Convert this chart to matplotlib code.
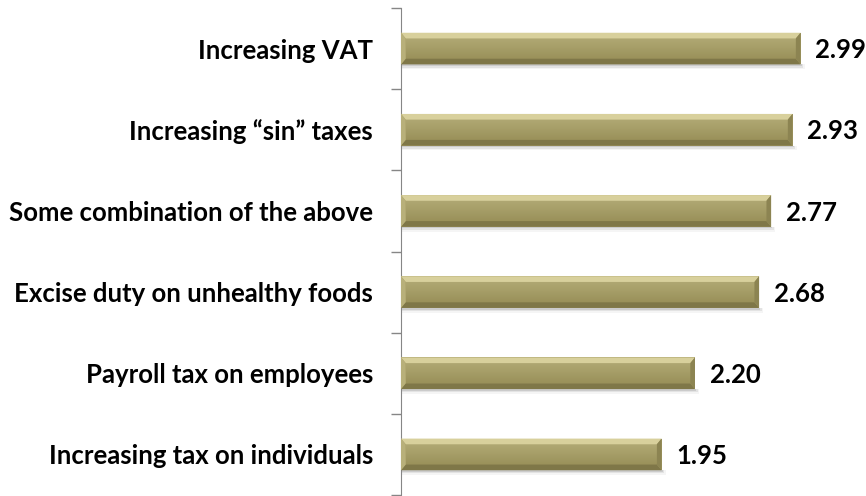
import matplotlib
matplotlib.use("Agg")
import matplotlib.pyplot as plt
import numpy as np
from matplotlib.patches import Polygon, Rectangle

categories = [
    "Increasing tax on individuals",
    "Payroll tax on employees",
    "Excise duty on unhealthy foods",
    "Some combination of the above",
    "Increasing \u201csin\u201d taxes",
    "Increasing VAT",
]
values = [1.95, 2.20, 2.68, 2.77, 2.93, 2.99]
value_labels = ["1.95", "2.20", "2.68", "2.77", "2.93", "2.99"]

plt.rcParams["font.family"] = ["Lato", "DejaVu Sans"]

fig = plt.figure(figsize=(8.66, 4.96), dpi=100)
ax = fig.add_axes([401 / 866, 1 / 496, 465 / 866, 487 / 496])

y = np.arange(len(categories))
height = 0.39
face = "#A39A62"
bars = ax.barh(y, values, height=height, color=face, edgecolor="none", zorder=3)

ax.set_xlim(0, 3.48)
ax.set_ylim(-0.5, len(categories) - 0.5)

# bevel and shadow on each bar
bx = 0.035
by = 0.07
for rect in bars:
    x0 = rect.get_x()
    x1 = x0 + rect.get_width()
    y0 = rect.get_y()
    y1 = y0 + rect.get_height()
    # soft drop shadow
    for k, a in enumerate([0.10, 0.07, 0.04]):
        d = 0.02 * (k + 1)
        ax.add_patch(Rectangle((x0, y0 - d), x1 - x0 + 0.01 * (k + 1), d,
                               color="black", alpha=a, lw=0, zorder=2))
    # inner face gradient
    grad = np.linspace(0, 1, 50).reshape(-1, 1)
    cmap = matplotlib.colors.LinearSegmentedColormap.from_list(
        "face", ["#9A915A", "#A59D67", "#B0A873"])
    ax.imshow(grad, extent=(x0 + bx, x1 - bx, y0 + by, y1 - by), origin="lower",
              cmap=cmap, aspect="auto", zorder=4)
    # top edge
    ax.add_patch(Polygon([(x0, y1), (x1, y1), (x1 - bx, y1 - by), (x0 + bx, y1 - by)],
                         closed=True, color="#D8D09C", lw=0, zorder=5))
    # bottom edge
    ax.add_patch(Polygon([(x0, y0), (x1, y0), (x1 - bx, y0 + by), (x0 + bx, y0 + by)],
                         closed=True, color="#7F7748", lw=0, zorder=5))
    # left edge
    ax.add_patch(Polygon([(x0, y0), (x0, y1), (x0 + bx, y1 - by), (x0 + bx, y0 + by)],
                         closed=True, color="#B8B07A", lw=0, zorder=5))
    # right edge
    ax.add_patch(Polygon([(x1, y0), (x1, y1), (x1 - bx, y1 - by), (x1 - bx, y0 + by)],
                         closed=True, color="#8C8452", lw=0, zorder=5))

for yi, v, lab in zip(y, values, value_labels):
    ax.text(v + 0.11, yi - 0.02, lab, va="center", ha="left",
            fontsize=18.5, fontweight="bold", color="black")

ax.set_xlim(0, 3.48)
ax.set_ylim(-0.5, len(categories) - 0.5)

ax.set_yticks(y)
ax.set_yticklabels(categories, fontsize=18.5, fontweight="bold")
ax.set_yticks(np.arange(-0.5, len(categories), 1.0), minor=True)
ax.tick_params(axis="y", which="major", length=0, pad=20)
ax.tick_params(axis="y", which="minor", length=7, color="#868686", width=1)
ax.set_xticks([])
for s in ["top", "right", "bottom"]:
    ax.spines[s].set_visible(False)
ax.spines["left"].set_color("#868686")
ax.patch.set_alpha(0)

fig.savefig("out.png", dpi=100)
